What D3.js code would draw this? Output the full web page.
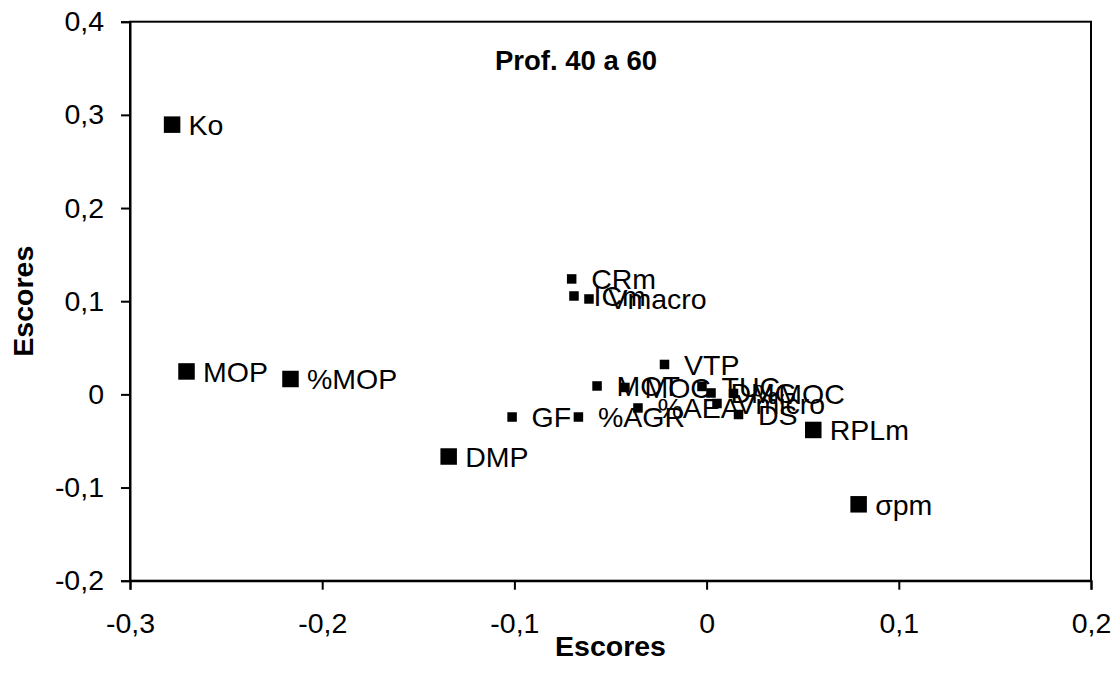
<!DOCTYPE html>
<html><head><meta charset="utf-8">
<script src="https://cdn.jsdelivr.net/npm/d3@7"></script>
<style>body{margin:0;background:#fff}svg{display:block}</style></head>
<body>
<svg id="c" width="1120" height="686"></svg>
<script>
// Series 1 (large markers)
const mainNames = ["Ko","MOP","%MOP","DMP","RPLm","σpm"];
const mainX = [-0.2781,-0.2706,-0.2165,-0.1342,0.0555,0.0791];
const mainY = [0.2895,0.0246,0.0165,-0.0667,-0.0382,-0.1180];
// Series 2 (small markers)
const otherNames = ["CRm","ICm","Vmacro","VTP","MOT","MOC","TUC","DMG","%MOC","Vmicro","%AEA","DS","GF","%AGR"];
const otherX = [-0.0702,-0.0690,-0.0612,-0.0219,-0.0570,-0.0425,-0.0024,0.0023,0.0140,0.0054,-0.0357,0.0166,-0.1012,-0.0667];
const otherY = [0.1239,0.1056,0.1024,0.0321,0.0090,0.0074,0.0085,0.0015,0.0010,-0.0098,-0.0146,-0.0216,-0.0243,-0.0243];
const xTicks = [-0.3,-0.2,-0.1,0,0.1,0.2];
const yTicks = [-0.2,-0.1,0,0.1,0.2,0.3,0.4];
const chartTitle = "Prof. 40 a 60";
const xTitle = "Escores";
const yTitle = "Escores";

const W = 1120, H = 686;
const m = {left:130, right:1120-1091, top:21.7, bottom:686-580.7};
const FONT = "Arial, 'Liberation Sans', sans-serif";
const FS = 28.5;
const svg = d3.select("#c");
const x = d3.scaleLinear().domain([-0.3,0.2]).range([m.left, W-m.right]);
const y = d3.scaleLinear().domain([-0.2,0.4]).range([H-m.bottom, m.top]);
const fmt = d => d === 0 ? "0" : d3.format(".1f")(d).replace(".", ",").replace("−","-");

// frame
svg.append("rect").attr("x", x(-0.3)).attr("y", y(0.4))
  .attr("width", x(0.2)-x(-0.3)).attr("height", y(-0.2)-y(0.4))
  .attr("fill","none").attr("stroke","#000").attr("stroke-width",2);

const xAxis = svg.append("g").attr("transform",`translate(0,${y(-0.2)})`)
  .call(d3.axisBottom(x).tickValues(xTicks).tickFormat(fmt).tickSize(9).tickPadding(23));
const yAxis = svg.append("g").attr("transform",`translate(${x(-0.3)},0)`)
  .call(d3.axisLeft(y).tickValues(yTicks).tickFormat(fmt).tickSize(9).tickPadding(17));
[xAxis,yAxis].forEach(g=>{
  g.select(".domain").attr("stroke","#000").attr("stroke-width",2);
  g.selectAll(".tick line").attr("stroke","#000").attr("stroke-width",2);
  g.selectAll(".tick text").attr("fill","#000").style("font-family",FONT).style("font-size",FS+"px");
});

function drawSeries(names, xs, ys, size, offset){
  const data = names.map((n,i)=>({n, x:xs[i], y:ys[i]}));
  svg.append("g").selectAll("rect").data(data).join("rect")
    .attr("x", d=>x(d.x)-size/2).attr("y", d=>y(d.y)-size/2)
    .attr("width", size).attr("height", size).attr("fill","#000");
  return {data, offset};
}
const s1 = drawSeries(mainNames, mainX, mainY, 16.5, 16.5);
const s2 = drawSeries(otherNames, otherX, otherY, 9.5, 19.5);
[s1,s2].forEach(s=>{
  svg.append("g").selectAll("text").data(s.data).join("text")
    .attr("x", d=>x(d.x)+s.offset).attr("y", d=>y(d.y)+FS*0.36)
    .style("font-family",FONT).style("font-size",FS+"px").attr("fill","#000")
    .text(d=>d.n);
});

svg.append("text").attr("x",576).attr("y",70).attr("text-anchor","middle")
  .style("font-family",FONT).style("font-size","27.5px").style("font-weight","bold").text(chartTitle);
svg.append("text").attr("x",(x(-0.3)+x(0.2))/2).attr("y",656).attr("text-anchor","middle")
  .style("font-family",FONT).style("font-size","28.5px").style("font-weight","bold").text(xTitle);
svg.append("text").attr("transform",`translate(33,${(y(-0.2)+y(0.4))/2}) rotate(-90)`).attr("text-anchor","middle")
  .style("font-family",FONT).style("font-size","28.5px").style("font-weight","bold").text(yTitle);
</script>
</body></html>
